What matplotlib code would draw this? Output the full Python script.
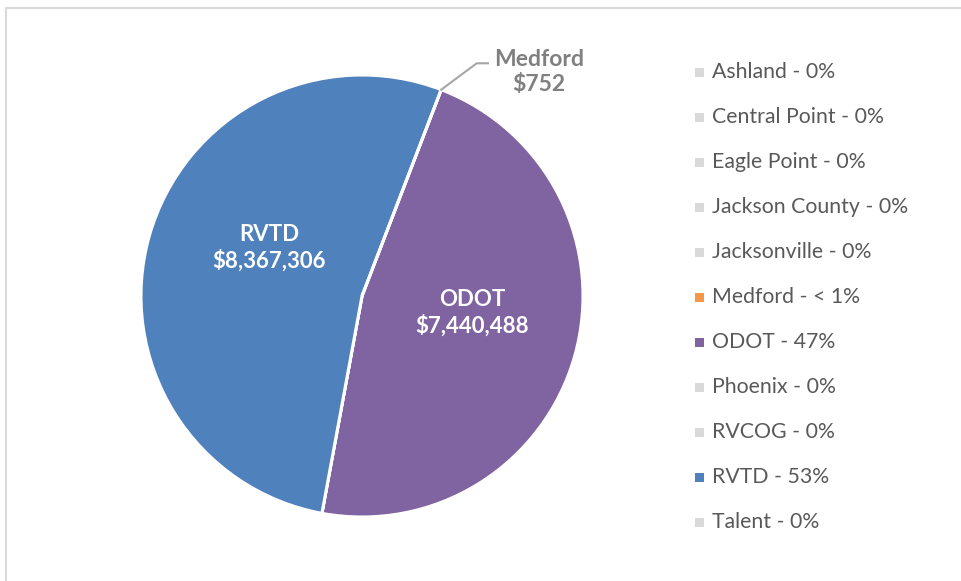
#!/usr/bin/env python3
# Funding share pie chart with a plain side legend (Excel-style look).

import matplotlib
matplotlib.use("Agg")
import matplotlib.pyplot as plt
from matplotlib.patches import Rectangle
from matplotlib.lines import Line2D
import numpy as np

# ---------------------------------------------------------------------------
# Data
# ---------------------------------------------------------------------------
agencies = ["Ashland", "Central Point", "Eagle Point", "Jackson County",
            "Jacksonville", "Medford", "ODOT", "Phoenix", "RVCOG", "RVTD",
            "Talent"]
amounts = [0, 0, 0, 0, 0, 752, 7440488, 0, 0, 8367306, 0]
legend_pct = ["0%", "0%", "0%", "0%", "0%", "< 1%", "47%", "0%", "0%",
              "53%", "0%"]

GRAY = "#D9D9D9"
colors = [GRAY, GRAY, GRAY, GRAY, GRAY, "#F79646", "#8064A2", GRAY, GRAY,
          "#4F81BD", GRAY]

# data-label placement inside the pie (axes data units, radius = 1)
label_pos = {"RVTD": (-0.42, 0.217), "ODOT": (0.50, -0.077)}
medford_text = (0.80, 1.015)
medford_elbow = [(0.519, 1.053), (0.570, 1.053)]

FONT = "Lato"
TEXT_GRAY = "#595959"

W, H = 961, 581
fig = plt.figure(figsize=(W / 100, H / 100), dpi=100)
fig.patch.set_facecolor("white")

# chart border (only top/left visible in the crop)
fig.add_artist(Line2D([6 / W, 6 / W, 1.0], [0.0, 1 - 8 / H, 1 - 8 / H],
                      color="#D9D9D9", lw=1.5, transform=fig.transFigure))

# ---- Pie ----
cx, cy, r = 362, 296, 221
ax = fig.add_axes([(cx - r) / W, (H - cy - r) / H, 2 * r / W, 2 * r / H])
wedges, _ = ax.pie(amounts, colors=colors, startangle=69, counterclock=False,
                   wedgeprops=dict(edgecolor="white", linewidth=2.2))
ax.set_xlim(-1, 1)
ax.set_ylim(-1, 1)
ax.set_aspect("equal")

for name, amt in zip(agencies, amounts):
    if name in label_pos:
        x, y = label_pos[name]
        ax.text(x, y, "{}\n${:,}".format(name, amt), ha="center", va="center",
                color="white", fontsize=16, fontweight="bold", family=FONT,
                linespacing=1.25)

# Medford: tiny slice, label outside with a leader line
mi = agencies.index("Medford")
w = wedges[mi]
theta = np.deg2rad((w.theta1 + w.theta2) / 2)
edge = (np.cos(theta), np.sin(theta))
xs = [edge[0]] + [p[0] for p in medford_elbow]
ys = [edge[1]] + [p[1] for p in medford_elbow]
ax.plot(xs, ys, color="#A6A6A6", lw=1.5, clip_on=False, zorder=5)
ax.text(medford_text[0], medford_text[1],
        "{}\n${:,}".format(agencies[mi], amounts[mi]),
        ha="center", va="center", color="#808080", fontsize=16.5,
        fontweight="bold", family=FONT, linespacing=1.25)

# ---- Legend (manual, one row per agency) ----
y0, dy = 72, 45.0
for i, (name, pct, col) in enumerate(zip(agencies, legend_pct, colors)):
    yc = y0 + i * dy
    fig.add_artist(Rectangle((695 / W, 1 - (yc + 4.5) / H), 9 / W, 9 / H,
                             facecolor=col, edgecolor="none",
                             transform=fig.transFigure))
    fig.text(712 / W, 1 - yc / H, "{} - {}".format(name, pct),
             ha="left", va="center", fontsize=15.3, color=TEXT_GRAY,
             family=FONT)

fig.savefig("out.png", dpi=100)
